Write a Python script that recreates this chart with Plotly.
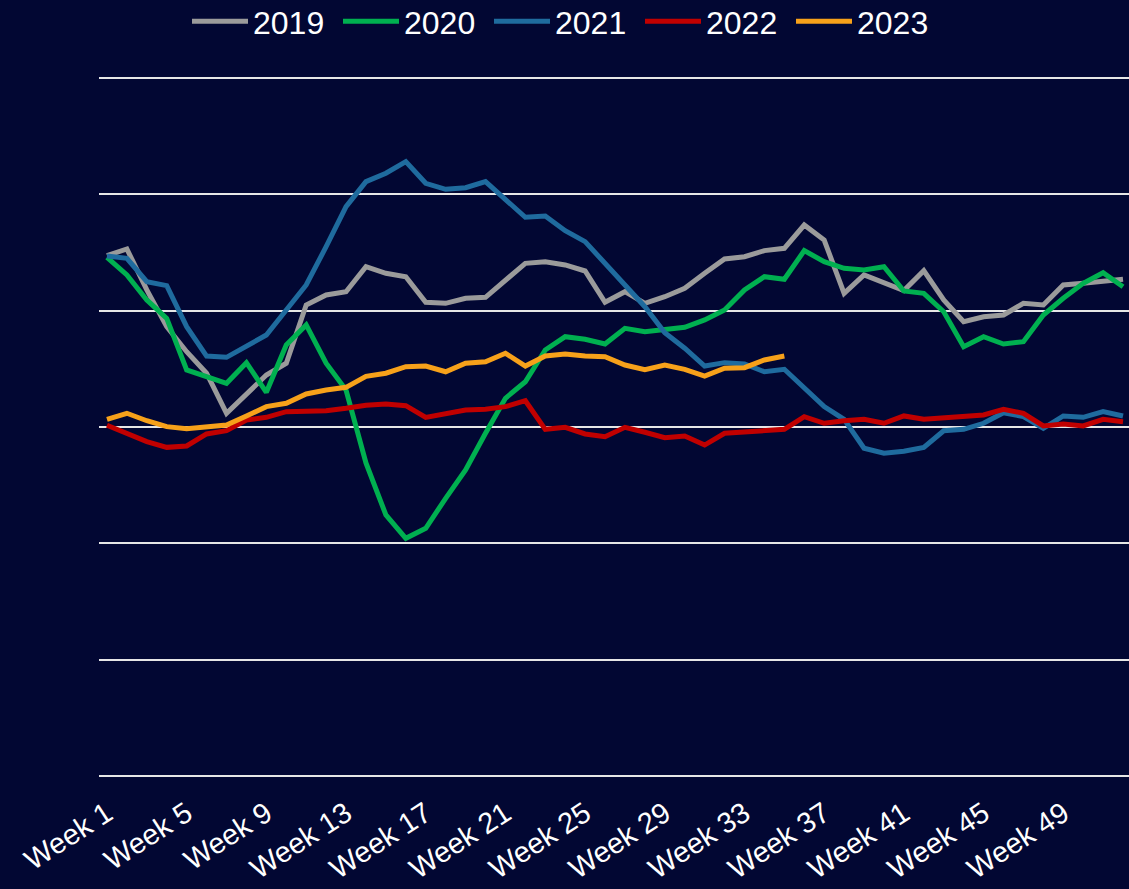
import plotly.graph_objects as go

weeks = [f"Week {i}" for i in range(1, 53)]
tick_weeks = [f"Week {i}" for i in range(1, 53, 4)]

y2019 = [14.73, 15.30, 11.78, 8.62, 6.47, 4.62, 1.18, 2.90, 4.47, 5.48, 10.49, 11.35, 11.63,
         13.78, 13.21, 12.92, 10.72, 10.63, 11.06, 11.15, 12.58, 14.07, 14.21, 13.93, 13.41,
         10.72, 11.63, 10.63, 11.20, 11.92, 13.21, 14.44, 14.64, 15.16, 15.36, 17.36, 16.07,
         11.49, 13.07, 12.35, 11.73, 13.44, 10.92, 9.05, 9.48, 9.63, 10.63, 10.49, 12.21,
         12.35, 12.49, 12.70]
y2020 = [14.59, 13.07, 10.92, 9.34, 4.90, 4.32, 3.76, 5.53, 2.98, 7.05, 8.77, 5.48, 3.18,
         -3.09, -7.56, -9.57, -8.71, -6.13, -3.70, -0.54, 2.47, 3.89, 6.62, 7.76, 7.54,
         7.13, 8.48, 8.19, 8.34, 8.57, 9.20, 10.06, 11.78, 12.92, 12.70, 15.16, 14.21,
         13.64, 13.50, 13.78, 11.69, 11.49, 9.91, 6.90, 7.76, 7.13, 7.33, 9.63, 11.06,
         12.35, 13.26, 12.06]
y2021 = [14.70, 14.50, 12.49, 12.15, 8.62, 6.10, 5.99, 6.90, 7.91, 10.06, 12.21, 15.50, 18.94,
         21.09, 21.81, 22.81, 20.95, 20.43, 20.57, 21.09, 19.51, 18.03, 18.14, 16.87, 15.93,
         14.07, 12.21, 10.34, 8.11, 6.77, 5.24, 5.53, 5.42, 4.75, 4.96, 3.33, 1.75,
         0.66, -1.83, -2.26, -2.08, -1.75, -0.32, -0.20, 0.32, 1.23, 0.89, -0.11, 0.95,
         0.83, 1.32, 0.95]
y2022 = [0.15, -0.54, -1.26, -1.75, -1.63, -0.60, -0.32, 0.60, 0.83, 1.32, 1.40, 1.40, 1.61,
         1.87, 1.98, 1.83, 0.83, 1.18, 1.46, 1.52, 1.75, 2.26, -0.20, -0.03, -0.60,
         -0.83, -0.03, -0.45, -0.92, -0.77, -1.55, -0.54, -0.40, -0.26, -0.20, 0.89, 0.32,
         0.54, 0.66, 0.32, 0.95, 0.66, 0.75, 0.89, 1.03, 1.52, 1.18, 0.09, 0.26,
         0.09, 0.66, 0.46]
y2023 = [0.66, 1.18, 0.54, 0.03, -0.15, -0.03, 0.17, 0.95, 1.75, 2.04, 2.84, 3.18, 3.41,
         4.36, 4.62, 5.18, 5.24, 4.75, 5.48, 5.61, 6.34, 5.24, 6.10, 6.28, 6.10,
         6.04, 5.33, 4.93, 5.33, 4.96, 4.38, 5.05, 5.10, 5.76, 6.10]

series_names = ["2019", "2020", "2021", "2022", "2023"]
series_values = [y2019, y2020, y2021, y2022, y2023]
series_colors = ["#9B9B9B", "#00B050", "#1F6B9E", "#C00000", "#F7A11A"]

fig = go.Figure()
for name, vals, col in zip(series_names, series_values, series_colors):
    fig.add_trace(go.Scatter(
        x=weeks[:len(vals)], y=vals, name=name, mode="lines",
        line=dict(color=col, width=5),
    ))

bg = "#020733"
fig.update_layout(
    width=1129, height=889,
    margin=dict(l=99, r=0, t=76, b=111, autoexpand=False),
    paper_bgcolor=bg, plot_bgcolor=bg,
    font=dict(family="Liberation Sans, Arial, sans-serif", color="white"),
    showlegend=True,
    legend=dict(
        orientation="h", xref="container", yref="container",
        x=0.5, xanchor="center", y=0.976, yanchor="middle",
        font=dict(size=32, color="white"),
        bgcolor="rgba(0,0,0,0)", itemwidth=56, entrywidth=80,
    ),
    xaxis=dict(
        type="category", categoryorder="array", categoryarray=weeks,
        range=[-0.4, 51.3], automargin=False,
        tickmode="array", tickvals=tick_weeks, ticktext=tick_weeks,
        tickangle=-33, tickfont=dict(size=29, color="white"),
        ticklabelstandoff=12,
        showgrid=False, zeroline=False, showline=False, ticks="",
    ),
    yaxis=dict(
        range=[-30.17, 30.17], tickvals=[-30, -20, -10, 0, 10, 20, 30],
        showticklabels=False, showgrid=True, gridcolor="#E6E6E6", gridwidth=1.6,
        zeroline=False, showline=False, ticks="", automargin=False,
    ),
)

fig.write_html("out.html", config={"displayModeBar": False},
               post_script="document.body.style.margin='0';")
